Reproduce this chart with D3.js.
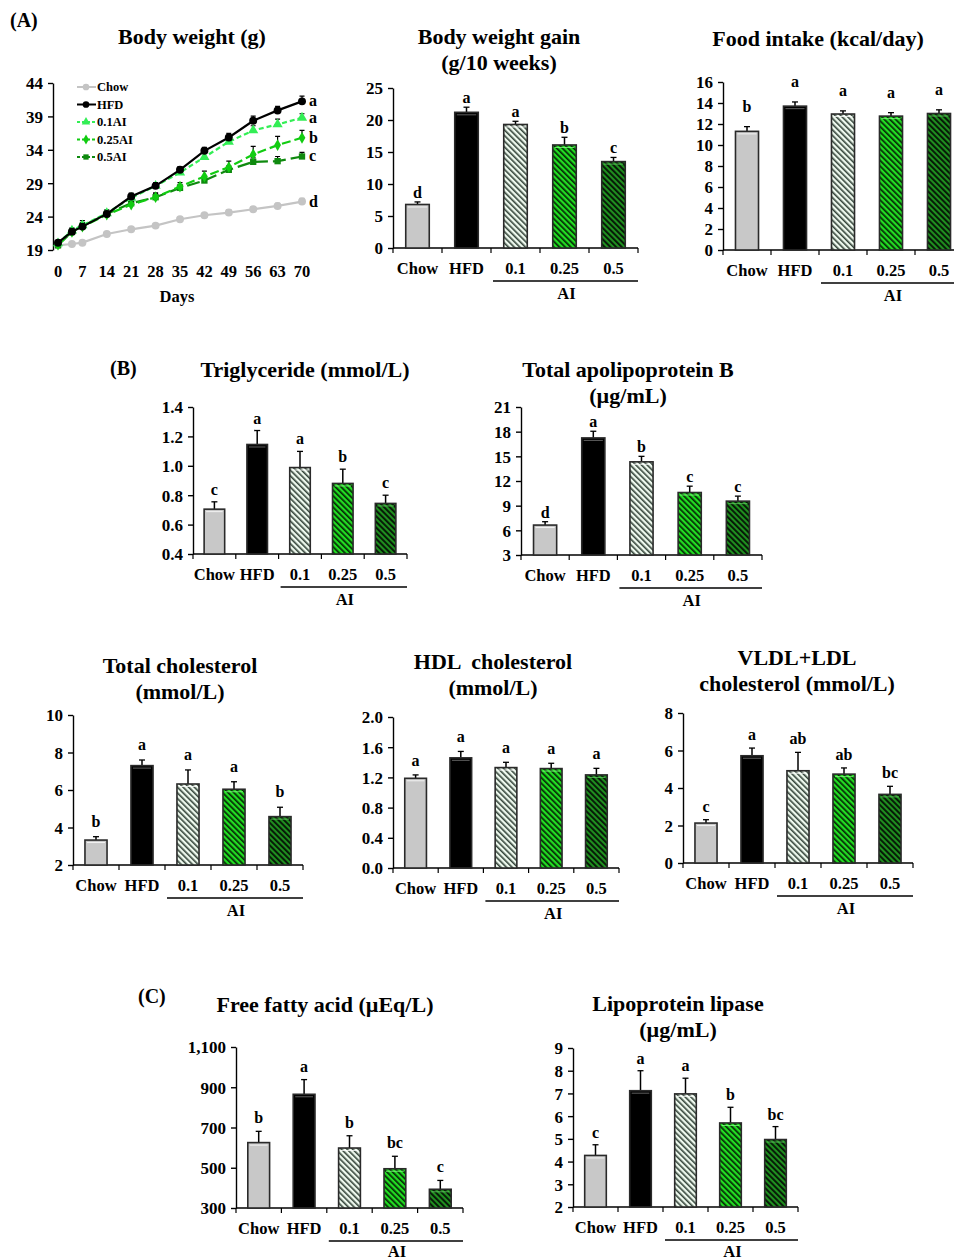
<!DOCTYPE html>
<html>
<head>
<meta charset="utf-8">
<script src="https://cdn.jsdelivr.net/npm/d3@7"></script>
<style>
  body { margin: 0; background: #fff; }
  svg text { font-family: "Liberation Serif", "Times New Roman", serif; font-weight: bold; fill: #000; }
</style>
</head>
<body>
<div id="chart"></div>
<script>
// ---- data ----
const groups = ["Chow", "HFD", "0.1", "0.25", "0.5"];

// body weight curve
const days = [0, 4, 7, 14, 21, 28, 35, 42, 49, 56, 63, 70];
const lineNames = ["Chow", "HFD", "0.1AI", "0.25AI", "0.5AI"];
const bwChow = [19.7, 19.9, 20.1, 21.4, 22.1, 22.65, 23.6, 24.2, 24.6, 25.1, 25.6, 26.25];
const bwHFD = [20.1, 21.75, 22.5, 24.4, 27.0, 28.6, 31.0, 33.85, 35.85, 38.35, 39.9, 41.25];
const bw01 = [20.0, 21.9, 22.7, 24.5, 26.8, 28.6, 30.6, 32.9, 35.2, 36.9, 37.8, 38.8];
const bw025 = [19.8, 21.7, 22.5, 24.3, 25.8, 26.9, 28.5, 30.0, 31.4, 33.3, 34.7, 35.8];
const bw05 = [19.7, 21.7, 22.6, 24.4, 26.0, 26.9, 28.3, 29.4, 31.0, 32.2, 32.3, 33.0];
const bwErrChow = [0.2, 0.2, 0.3, 0.3, 0.3, 0.3, 0.3, 0.3, 0.4, 0.4, 0.4, 0.5];
const bwErrHFD = [0.3, 0.4, 0.4, 0.4, 0.5, 0.5, 0.5, 0.5, 0.6, 0.7, 0.6, 0.8];
const bwErr01 = [0.3, 0.4, 0.7, 0.5, 0.5, 0.4, 0.5, 0.6, 0.6, 0.7, 0.8, 0.6];
const bwErr025 = [0.3, 0.4, 0.5, 0.5, 0.5, 0.6, 0.6, 0.8, 0.9, 1.2, 1.3, 1.1];
const bwErr05 = [0.3, 0.4, 0.5, 0.4, 0.5, 0.6, 0.5, 0.6, 0.6, 0.6, 0.7, 0.6];
const bwLetters = ["d", "a", "a", "b", "c"];
const dayTicks = [0, 7, 14, 21, 28, 35, 42, 49, 56, 63, 70];
const bwTicks = [19, 24, 29, 34, 39, 44];

// bar panels
const gainMean = [6.8, 21.2, 19.3, 16.1, 13.5];
const gainErr = [0.4, 0.8, 0.5, 1.2, 0.65];
const gainLetters = ["d", "a", "a", "b", "c"];

const foodMean = [11.3, 13.7, 12.95, 12.75, 13.0];
const foodErr = [0.45, 0.4, 0.3, 0.33, 0.35];
const foodLetters = ["b", "a", "a", "a", "a"];

const tgMean = [0.705, 1.145, 0.988, 0.88, 0.744];
const tgErr = [0.05, 0.095, 0.11, 0.097, 0.056];
const tgLetters = ["c", "a", "a", "b", "c"];

const apoMean = [6.64, 17.24, 14.33, 10.6, 9.55];
const apoErr = [0.41, 0.81, 0.67, 0.77, 0.61];
const apoLetters = ["d", "a", "b", "c", "c"];

const tcMean = [3.33, 7.3, 6.32, 6.04, 4.58];
const tcErr = [0.18, 0.3, 0.75, 0.4, 0.5];
const tcLetters = ["b", "a", "a", "a", "b"];

const hdlMean = [1.188, 1.459, 1.33, 1.317, 1.233];
const hdlErr = [0.045, 0.085, 0.07, 0.07, 0.087];
const hdlLetters = ["a", "a", "a", "a", "a"];

const vldlMean = [2.13, 5.72, 4.92, 4.74, 3.66];
const vldlErr = [0.18, 0.41, 0.98, 0.33, 0.43];
const vldlLetters = ["c", "a", "ab", "ab", "bc"];

const ffaMean = [625, 865, 598, 495, 393];
const ffaErr = [56, 73, 61, 62, 44];
const ffaLetters = ["b", "a", "b", "bc", "c"];

const lplMean = [4.27, 7.12, 6.98, 5.70, 4.97];
const lplErr = [0.47, 0.88, 0.69, 0.69, 0.57];
const lplLetters = ["c", "a", "a", "b", "bc"];

// ---- drawing ----
const W = 954, H = 1260;
const svg = d3.select("#chart").append("svg")
  .attr("width", W).attr("height", H)
  .attr("viewBox", "0 0 " + W + " " + H);

svg.append("rect").attr("width", W).attr("height", H).attr("fill", "#fff");

// stripe patterns for the AI groups
const defs = svg.append("defs");
function stripe(id, bg, fg, sw) {
  const p = defs.append("pattern").attr("id", id)
    .attr("patternUnits", "userSpaceOnUse")
    .attr("width", 4).attr("height", 4)
    .attr("patternTransform", "rotate(-45)");
  p.append("rect").attr("width", 4).attr("height", 4).attr("fill", bg);
  p.append("rect").attr("width", sw).attr("height", 4).attr("fill", fg);
}
stripe("p01", "#eef9ee", "#34443a", 1.6);
stripe("p025", "#22dd22", "#062806", 1.7);
stripe("p05", "#1f8f1f", "#061606", 1.9);

const barFill = ["#c8c8c8", "#000000", "url(#p01)", "url(#p025)", "url(#p05)"];
const barShine = ["#ffffff", "#777777", "#ffffff", "#88ff88", "#66cc66"];

function title(lines, cx, cy) {
  lines.forEach((t, i) => {
    svg.append("text")
      .attr("x", cx).attr("y", cy + i * 26 + 7)
      .attr("text-anchor", "middle")
      .attr("font-size", 22)
      .style("white-space", "pre")
      .text(t);
  });
}

function panelLabel(t, x, y) {
  svg.append("text").attr("x", x).attr("y", y)
    .attr("font-size", 20).text(t);
}

function barPanel(p) {
  const x = d3.scaleBand().domain(groups).range([p.x0, p.x1])
    .paddingInner(0.52).paddingOuter(0.26);
  const y = d3.scaleLinear().domain(p.domain).range([p.yBot, p.yTop]);
  const g = svg.append("g");

  // y axis
  const ya = g.append("g").attr("transform", "translate(" + p.x0 + ",0)")
    .call(d3.axisLeft(y).tickValues(p.ticks).tickSize(5).tickSizeOuter(0).tickPadding(5)
      .tickFormat(p.fmt));
  ya.selectAll("path, line").attr("stroke", "#000").attr("stroke-width", 1.4);
  ya.selectAll("text").attr("font-size", 17).attr("font-family", null).attr("dy", "0.35em");

  // x axis line with ticks between categories
  g.append("line").attr("x1", p.x0).attr("x2", p.x1)
    .attr("y1", p.yBot).attr("y2", p.yBot)
    .attr("stroke", "#000").attr("stroke-width", 1.4);
  const bounds = d3.range(groups.length + 1).map(i => p.x0 + i * x.step());
  g.selectAll(".xt").data(bounds).join("line")
    .attr("x1", d => d).attr("x2", d => d)
    .attr("y1", p.yBot).attr("y2", p.yBot + 5)
    .attr("stroke", "#000").attr("stroke-width", 1.2);

  const rows = groups.map((k, i) => ({ k, i, m: p.mean[i], e: p.err[i], l: p.letters[i] }));

  // error bars (upper only)
  g.selectAll(".err").data(rows).join("line")
    .attr("x1", d => x(d.k) + x.bandwidth() / 2).attr("x2", d => x(d.k) + x.bandwidth() / 2)
    .attr("y1", d => y(d.m)).attr("y2", d => y(d.m + d.e))
    .attr("stroke", "#000").attr("stroke-width", 1.5);
  g.selectAll(".cap").data(rows).join("line")
    .attr("x1", d => x(d.k) + x.bandwidth() / 2 - 3).attr("x2", d => x(d.k) + x.bandwidth() / 2 + 3)
    .attr("y1", d => y(d.m + d.e)).attr("y2", d => y(d.m + d.e))
    .attr("stroke", "#000").attr("stroke-width", 1.3);

  // bars
  g.selectAll(".bar").data(rows).join("rect")
    .attr("x", d => x(d.k)).attr("width", x.bandwidth())
    .attr("y", d => y(d.m)).attr("height", d => p.yBot - y(d.m))
    .attr("fill", d => barFill[d.i])
    .attr("stroke", "#2a2a2a").attr("stroke-width", 1.6);
  g.selectAll(".shine").data(rows).join("line")
    .attr("x1", d => x(d.k) + 2).attr("x2", d => x(d.k) + x.bandwidth() - 2)
    .attr("y1", d => y(d.m) + 2.5).attr("y2", d => y(d.m) + 2.5)
    .attr("stroke", d => barShine[d.i]).attr("stroke-width", 1).attr("opacity", 0.8);

  // significance letters
  g.selectAll(".let").data(rows).join("text")
    .attr("x", d => x(d.k) + x.bandwidth() / 2)
    .attr("y", d => y(d.m + d.e) - (p.gap || 5))
    .attr("text-anchor", "middle").attr("font-size", 16)
    .text(d => d.l);

  // category labels
  g.selectAll(".cat").data(groups).join("text")
    .attr("x", d => x(d) + x.bandwidth() / 2)
    .attr("y", p.yBot + 26)
    .attr("text-anchor", "middle").attr("font-size", 16.5)
    .text(d => d);

  // AI bracket
  const ly = p.yBot + 33;
  g.append("line").attr("x1", bounds[2] + 2).attr("x2", p.x1)
    .attr("y1", ly).attr("y2", ly).attr("stroke", "#000").attr("stroke-width", 1.3);
  g.append("text").attr("x", (bounds[2] + p.x1) / 2 + 2).attr("y", Math.min(ly + 18, H - 3))
    .attr("text-anchor", "middle").attr("font-size", 16.5).text("AI");
}

// ---- (A) body weight line chart ----
panelLabel("(A)", 10, 27);
title(["Body weight (g)"], 192, 37);
{
  const x = d3.scaleLinear().domain([0, 70]).range([58, 302]);
  const y = d3.scaleLinear().domain([19, 44]).range([250, 83]);
  const g = svg.append("g");
  const ya = g.append("g").attr("transform", "translate(53,0)")
    .call(d3.axisLeft(y).tickValues(bwTicks).tickSize(5).tickSizeOuter(0).tickPadding(5));
  ya.selectAll("path, line").attr("stroke", "#000").attr("stroke-width", 1.4);
  ya.selectAll("text").attr("font-size", 17).attr("font-family", null).attr("dy", "0.35em");

  g.selectAll(".dt").data(dayTicks).join("text")
    .attr("x", d => x(d)).attr("y", 277)
    .attr("text-anchor", "middle").attr("font-size", 16.5).text(d => d);
  g.append("text").attr("x", 177).attr("y", 302).attr("text-anchor", "middle")
    .attr("font-size", 16.5).text("Days");

  const vals = [bwChow, bwHFD, bw01, bw025, bw05];
  const errs = [bwErrChow, bwErrHFD, bwErr01, bwErr025, bwErr05];
  const colors = ["#c4c4c4", "#000000", "#33ee55", "#11cc11", "#0f8a0f"];
  const dashes = [null, null, "5,3", "9,4", "13,5"];
  const shapes = [d3.symbolCircle, d3.symbolCircle, d3.symbolTriangle, d3.symbolDiamond, d3.symbolSquare];
  const sizes = [50, 50, 45, 40, 40];
  const order = [0, 4, 3, 2, 1];

  const line = d3.line().x(d => x(d[0])).y(d => y(d[1]));
  order.forEach(s => {
    const pts = days.map((d, i) => [d, vals[s][i], errs[s][i]]);
    g.selectAll(".eb" + s).data(pts).join("path")
      .attr("d", d => "M" + x(d[0]) + "," + y(d[1]) + "V" + y(d[1] + d[2]) +
        "M" + (x(d[0]) - 2.5) + "," + y(d[1] + d[2]) + "h5")
      .attr("stroke", s === 0 ? "#999" : "#000").attr("stroke-width", 1.2).attr("fill", "none");
    g.append("path").datum(pts).attr("d", line)
      .attr("fill", "none").attr("stroke", colors[s]).attr("stroke-width", 2.2)
      .attr("stroke-dasharray", dashes[s]);
    g.selectAll(".mk" + s).data(pts).join("path")
      .attr("transform", d => "translate(" + x(d[0]) + "," + y(d[1]) + ")")
      .attr("d", d3.symbol().type(shapes[s]).size(sizes[s]))
      .attr("fill", colors[s]);
  });

  // end letters
  g.selectAll(".el").data(lineNames).join("text")
    .attr("x", 309).attr("y", (d, i) => y(vals[i][vals[i].length - 1]) + 5)
    .attr("font-size", 16).text((d, i) => bwLetters[i]);

  // legend
  const lg = g.append("g");
  lineNames.forEach((n, i) => {
    const ly = 87 + i * 17.5;
    const s = i;
    lg.append("line").attr("x1", 77).attr("x2", 96).attr("y1", ly).attr("y2", ly)
      .attr("stroke", colors[s]).attr("stroke-width", 2).attr("stroke-dasharray", dashes[s] ? "3,2" : null);
    lg.append("path").attr("transform", "translate(86," + ly + ")")
      .attr("d", d3.symbol().type(shapes[s]).size(sizes[s] * 0.7)).attr("fill", colors[s]);
    lg.append("text").attr("x", 97).attr("y", ly + 4).attr("font-size", 12.5).text(n);
  });
}

// ---- (A) bars ----
title(["Body weight gain", "(g/10 weeks)"], 499, 37);
barPanel({ x0: 393, x1: 638, yTop: 88, yBot: 248, domain: [0, 25], ticks: [0, 5, 10, 15, 20, 25],
  fmt: d3.format("d"), mean: gainMean, err: gainErr, letters: gainLetters, gap: 4 });

title(["Food intake (kcal/day)"], 818, 39);
barPanel({ x0: 723, x1: 963, yTop: 82, yBot: 250, domain: [0, 16], ticks: d3.range(0, 17, 2),
  fmt: d3.format("d"), mean: foodMean, err: foodErr, letters: foodLetters, gap: 15 });

// ---- (B) ----
panelLabel("(B)", 110, 375);
title(["Triglyceride (mmol/L)"], 305, 370);
barPanel({ x0: 193, x1: 407, yTop: 407, yBot: 554, domain: [0.4, 1.4], ticks: [0.4, 0.6, 0.8, 1.0, 1.2, 1.4],
  fmt: d3.format(".1f"), mean: tgMean, err: tgErr, letters: tgLetters, gap: 7 });

title(["Total apolipoprotein B", "(µg/mL)"], 628, 370);
barPanel({ x0: 521, x1: 762, yTop: 407, yBot: 555, domain: [3, 21], ticks: [3, 6, 9, 12, 15, 18, 21],
  fmt: d3.format("d"), mean: apoMean, err: apoErr, letters: apoLetters, gap: 4 });

title(["Total cholesterol", "(mmol/L)"], 180, 666);
barPanel({ x0: 73, x1: 303, yTop: 715, yBot: 865, domain: [2, 10], ticks: [2, 4, 6, 8, 10],
  fmt: d3.format("d"), mean: tcMean, err: tcErr, letters: tcLetters, gap: 10 });

title(["HDL  cholesterol", "(mmol/L)"], 493, 662);
barPanel({ x0: 393, x1: 619, yTop: 717, yBot: 868, domain: [0, 2], ticks: [0, 0.4, 0.8, 1.2, 1.6, 2.0],
  fmt: d3.format(".1f"), mean: hdlMean, err: hdlErr, letters: hdlLetters, gap: 9 });

title(["VLDL+LDL", "cholesterol (mmol/L)"], 797, 658);
barPanel({ x0: 683, x1: 913, yTop: 713, yBot: 863, domain: [0, 8], ticks: [0, 2, 4, 6, 8],
  fmt: d3.format("d"), mean: vldlMean, err: vldlErr, letters: vldlLetters, gap: 8 });

// ---- (C) ----
panelLabel("(C)", 138, 1003);
title(["Free fatty acid (µEq/L)"], 325, 1005);
barPanel({ x0: 236, x1: 463, yTop: 1047, yBot: 1208, domain: [300, 1100], ticks: [300, 500, 700, 900, 1100],
  fmt: d3.format(","), mean: ffaMean, err: ffaErr, letters: ffaLetters, gap: 8 });

title(["Lipoprotein lipase", "(µg/mL)"], 678, 1004);
barPanel({ x0: 573, x1: 798, yTop: 1048, yBot: 1207, domain: [2, 9], ticks: d3.range(2, 10),
  fmt: d3.format("d"), mean: lplMean, err: lplErr, letters: lplLetters, gap: 7 });
</script>
</body>
</html>
